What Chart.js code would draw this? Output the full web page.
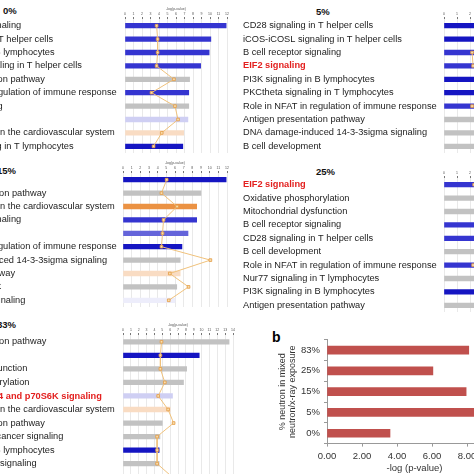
<!DOCTYPE html>
<html>
<head>
<meta charset="utf-8">
<script src="https://cdn.jsdelivr.net/npm/chart.js@4.4.1/dist/chart.umd.min.js"></script>
<style>
  html, body { margin: 0; padding: 0; background: #fff; }
  body { width: 474px; height: 474px; position: relative; overflow: hidden; font-family: "Liberation Sans", Arial, sans-serif; }
  canvas { position: absolute; }
  .ttl { position: absolute; font-weight: bold; font-size: 9.5px; line-height: 1; color: #111; white-space: nowrap; }
  .panel { position: absolute; font-weight: bold; font-size: 14px; line-height: 1; color: #000; }
</style>
</head>
<body>
<div class="ttl" style="left:3px;top:6px">0%</div>
<div class="ttl" style="left:316px;top:7px">5%</div>
<div class="ttl" style="left:-3px;top:166px">15%</div>
<div class="ttl" style="left:316px;top:167px">25%</div>
<div class="ttl" style="left:-3px;top:320px">83%</div>
<div class="panel" style="left:272px;top:330px">b</div>

<canvas id="p0" width="309" height="146" style="left:-77px;top:7px"></canvas>
<canvas id="p5" width="414" height="146" style="left:243px;top:7px"></canvas>
<canvas id="p15" width="309" height="146" style="left:-77px;top:161px"></canvas>
<canvas id="p25" width="310" height="146" style="left:243px;top:166px"></canvas>
<canvas id="p83" width="315" height="161" style="left:-77px;top:322.8px"></canvas>
<canvas id="pb" width="252" height="144" style="left:278px;top:330px"></canvas>

<script>
Chart.defaults.font.family = "'Liberation Sans', Arial, sans-serif";
Chart.defaults.color = '#222';

// --- DADOS ---

// 0% neutron
const labels0 = ['B cell receptor signaling', 'CD28 signaling in T helper cells', 'PI3K signaling in B lymphocytes',
  'iCOS-iCOSL signaling in T helper cells', 'Antigen presentation pathway', 'Role in NFAT in regulation of immune response',
  'Apoptosis signaling', 'IL-4 signaling', 'Nitric oxide signal in the cardiovascular system', 'PKCtheta signaling in T lymphocytes'];
const logp0 = [11.9, 10.1, 9.9, 8.9, 7.6, 7.5, 7.5, 7.4, 6.9, 6.8];
const ratio0 = [0.31, 0.32, 0.32, 0.31, 0.48, 0.26, 0.49, 0.52, 0.36, 0.28];
const colors0 = ['b', 'b', 'b', 'b', 'g', 'b', 'g', 'lb', 'lo', 'db'];

// 5% neutron
const labels5 = ['CD28 signaling in T helper cells', 'iCOS-iCOSL signaling in T helper cells', 'B cell receptor signaling',
  'EIF2 signaling', 'PI3K signaling in B lymphocytes', 'PKCtheta signaling in T lymphocytes',
  'Role in NFAT in regulation of immune response', 'Antigen presentation pathway',
  'DNA damage-induced 14-3-3sigma signaling', 'B cell development'];
const logp5 = [15.5, 12.9, 10.4, 8.8, 8.2, 7.6, 7.1, 6.0, 5.2, 4.9];
const ratio5 = [0.28, 0.25, 0.135, 0.14, 0.27, 0.26, 0.135, 0.3, 0.4, 0.35];
const colors5 = ['db', 'db', 'b', 'b', 'db', 'db', 'b', 'g', 'g', 'g'];

// 15% neutron
const labels15 = ['iNOS signaling', 'Protein ubiquitination pathway', 'Nitric oxide signal in the cardiovascular system',
  'B cell receptor signaling', 'EIF2 signaling', 'Role in NFAT in regulation of immune response',
  'DNA damage-induced 14-3-3sigma signaling', 'IL-6 signaling pathway', 'B cell development', 'Ephrin receptor signaling'];
const logp15 = [11.9, 9.0, 8.5, 8.5, 7.5, 6.8, 6.6, 6.6, 6.2, 6.0];
const ratio15 = [0.42, 0.37, 0.52, 0.39, 0.38, 0.37, 0.84, 0.45, 0.63, 0.44];
const colors15 = ['db', 'g', 'o', 'b', 'mb', 'db', 'g', 'lo', 'g', 'vlb'];

// 25% neutron
const labels25 = ['EIF2 signaling', 'Oxidative phosphorylation', 'Mitochondrial dysfunction', 'B cell receptor signaling',
  'CD28 signaling in T helper cells', 'B cell development', 'Role in NFAT in regulation of immune response',
  'Nur77 signaling in T lymphocytes', 'PI3K signaling in B lymphocytes', 'Antigen presentation pathway'];
const logp25 = [6.0, 5.6, 5.2, 4.7, 4.5, 4.2, 4.0, 3.6, 3.4, 3.2];
const ratio25 = [0.29, 0.45, 0.5, 0.4, 0.42, 0.55, 0.28, 0.5, 0.38, 0.6];
const colors25 = ['b', 'g', 'g', 'b', 'b', 'g', 'b', 'g', 'db', 'g'];

// 83% neutron
const labels83 = ['Protein ubiquitination pathway', 'EIF2 signaling', 'Mitochondrial dysfunction', 'Oxidative phosphorylation',
  'Regulation of eIF4 and p70S6K signaling', 'Nitric oxide signal in the cardiovascular system',
  'Antigen presentation pathway', 'Hereditary breast cancer signaling', 'PI3K signaling in B lymphocytes',
  'Actin cytoskeleton signaling', 'mTOR signaling'];
const logp83 = [13.5, 9.7, 8.1, 7.7, 6.3, 6.0, 5.0, 4.7, 4.6, 4.6, 4.5];
const ratio83 = [0.35, 0.34, 0.34, 0.38, 0.32, 0.41, 0.46, 0.31, 0.31, 0.31, 0.45];
const colors83 = ['g', 'db', 'g', 'g', 'lb', 'lo', 'g', 'g', 'db', 'g', 'g'];

// painel b: EIF2 signaling
const exposureLabels = ['83%', '25%', '15%', '5%', '0%'];
const exposureLogp = [8.1, 6.05, 7.95, 8.8, 3.6];

const highlighted = ['EIF2 signaling', 'Regulation of eIF4 and p70S6K signaling'];

// cores estilo IPA
const palette = {
  db: '#1515c2', b: '#3535d0', mb: '#6464da', lb: '#cfcff3', vlb: '#ededfb',
  g: '#c2c2c2', o: '#eb9243', lo: '#f9dcc3'
};

// --- PAINÉIS IPA ---
function ipaChart(id, labels, logp, ratio, colorKeys, xMax, labelWidth) {
  const ctx = document.getElementById(id).getContext('2d');
  return new Chart(ctx, {
    data: {
      labels: labels,
      datasets: [
        {
          type: 'line',
          indexAxis: 'y',
          data: ratio,
          xAxisID: 'x2',
          yAxisID: 'y',
          borderColor: '#f0c27c',
          borderWidth: 1,
          tension: 0,
          pointStyle: 'rect',
          pointRadius: 1.9,
          pointBackgroundColor: '#f8dfb0',
          pointBorderColor: '#e39a42',
          pointBorderWidth: 0.8,
          order: 0
        },
        {
          type: 'bar',
          data: logp,
          xAxisID: 'x',
          yAxisID: 'y',
          backgroundColor: colorKeys.map(k => palette[k]),
          borderWidth: 0,
          barThickness: 4.6,
          order: 1
        }
      ]
    },
    options: {
      indexAxis: 'y',
      responsive: false,
      devicePixelRatio: 1,
      animation: false,
      // folga à direita só para o último rótulo do eixo
      layout: { padding: { top: 0, left: 0, bottom: 0, right: 5 }, autoPadding: false },
      plugins: { legend: { display: false }, tooltip: { enabled: false } },
      scales: {
        y: {
          type: 'category',
          position: 'left',
          grid: { display: false },
          border: { display: false },
          // largura fixa da coluna de nomes, sem folga extra em cima/embaixo
          afterFit: (scale) => { scale.width = labelWidth; scale.paddingTop = 0; scale.paddingBottom = 0; },
          ticks: {
            autoSkip: false,
            crossAlign: 'far',
            padding: 0,
            font: (c) => ({ size: 9.26, weight: highlighted.includes(labels[c.index]) ? 'bold' : 'normal' }),
            color: (c) => highlighted.includes(labels[c.index]) ? '#e3201f' : '#1c1c1c'
          }
        },
        x: {
          type: 'linear',
          position: 'top',
          min: 0,
          max: xMax,
          afterFit: (scale) => { scale.height = 12; scale.paddingLeft = 0; scale.paddingRight = 0; },
          grid: { color: '#e9e9e9', lineWidth: 1, tickLength: 2, tickColor: '#777' },
          border: { display: false },
          title: { display: true, text: '-log(p-value)', font: { size: 3.5 }, color: '#555', padding: 0 },
          ticks: { stepSize: 1, autoSkip: false, maxRotation: 0, padding: 1, font: { size: 3.5 }, color: '#555' }
        },
        x2: { type: 'linear', display: false, min: 0, max: 1 }
      }
    }
  });
}

ipaChart('p0', labels0, logp0, ratio0, colors0, 12, 202);
ipaChart('p5', labels5, logp5, ratio5, colors5, 16, 201);
ipaChart('p15', labels15, logp15, ratio15, colors15, 12, 200);
ipaChart('p25', labels25, logp25, ratio25, colors25, 8, 201);
ipaChart('p83', labels83, logp83, ratio83, colors83, 14, 200);

// --- PAINEL b ---
new Chart(document.getElementById('pb').getContext('2d'), {
  type: 'bar',
  data: {
    labels: exposureLabels,
    datasets: [{
      data: exposureLogp,
      backgroundColor: '#c0504d',
      borderWidth: 0,
      barThickness: 8
    }]
  },
  options: {
    indexAxis: 'y',
    responsive: false,
    devicePixelRatio: 1,
    animation: false,
    layout: { padding: { top: 8.4, right: 28, left: 0, bottom: 0 } },
    plugins: { legend: { display: false }, tooltip: { enabled: false } },
    scales: {
      y: {
        afterFit: (scale) => { scale.width = 49; },
        grid: { drawOnChartArea: false, tickLength: 3, color: '#999' },
        border: { color: '#999' },
        title: {
          display: true,
          text: ['% neutron in mixed', 'neutron/x-ray exposure'],
          font: { size: 9, lineHeight: 1.1 },
          color: '#333',
          padding: 0
        },
        ticks: { padding: 4, font: { size: 9.5 }, color: '#333' }
      },
      x: {
        min: 0,
        max: 10,
        afterFit: (scale) => { scale.height = 30.4; },
        grid: { drawOnChartArea: false, tickLength: 3, color: '#999' },
        border: { color: '#999' },
        title: { display: true, text: '-log (p-value)', font: { size: 9.5 }, color: '#333', padding: 0 },
        ticks: { stepSize: 2, padding: 4, font: { size: 9.5 }, color: '#333', callback: (v) => v.toFixed(2) }
      }
    }
  }
});
</script>
</body>
</html>
